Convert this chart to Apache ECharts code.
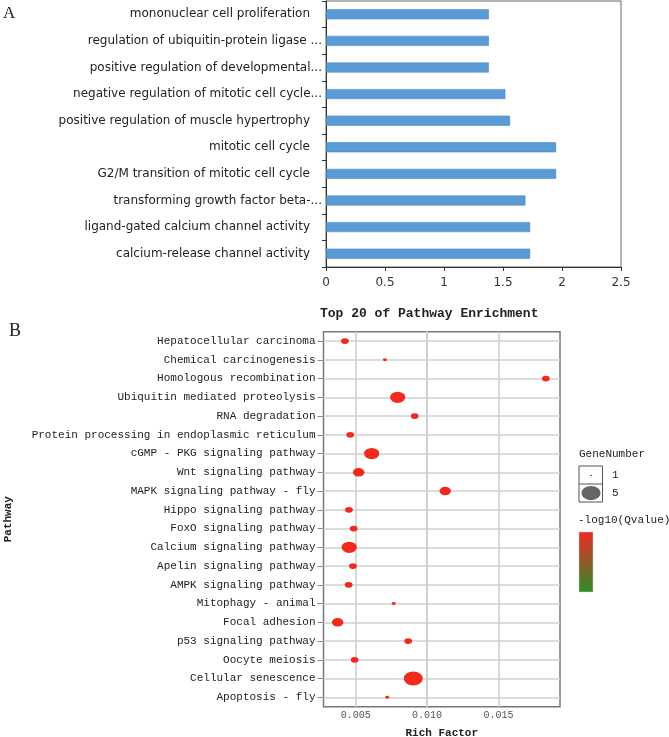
<!DOCTYPE html>
<html><head><meta charset="utf-8">
<script src="https://cdn.jsdelivr.net/npm/echarts@6/dist/echarts.min.js"></script>
<style>html,body{margin:0;padding:0;background:#fff}#c{width:669px;height:737px}</style>
</head><body><div id="c"></div>
<script>
// ---- Panel A data ----
const goTerms = [
  'mononuclear cell proliferation',
  'regulation of ubiquitin-protein ligase ...',
  'positive regulation of developmental...',
  'negative regulation of mitotic cell cycle...',
  'positive regulation of muscle hypertrophy',
  'mitotic cell cycle',
  'G2/M transition of mitotic cell cycle',
  'transforming growth factor beta-...',
  'ligand-gated calcium channel activity',
  'calcium-release channel activity'
];
const goValues = [1.38, 1.38, 1.38, 1.52, 1.56, 1.95, 1.95, 1.69, 1.73, 1.73];
const goTicks = [0, 0.5, 1, 1.5, 2, 2.5];

// ---- Panel B data ----
const pathways = [
  'Hepatocellular carcinoma',
  'Chemical carcinogenesis',
  'Homologous recombination',
  'Ubiquitin mediated proteolysis',
  'RNA degradation',
  'Protein processing in endoplasmic reticulum',
  'cGMP - PKG signaling pathway',
  'Wnt signaling pathway',
  'MAPK signaling pathway - fly',
  'Hippo signaling pathway',
  'FoxO signaling pathway',
  'Calcium signaling pathway',
  'Apelin signaling pathway',
  'AMPK signaling pathway',
  'Mitophagy - animal',
  'Focal adhesion',
  'p53 signaling pathway',
  'Oocyte meiosis',
  'Cellular senescence',
  'Apoptosis - fly'
];
const richFactor = [0.00425, 0.00705, 0.01831, 0.00794, 0.00913, 0.00462, 0.00612, 0.00521, 0.01127, 0.00453,
                    0.00486, 0.00455, 0.00481, 0.00451, 0.00766, 0.00374, 0.00868, 0.00493, 0.00903, 0.00721];
const geneNumber = [2, 1, 2, 4, 2, 2, 4, 3, 3, 2, 2, 4, 2, 2, 1, 3, 2, 2, 5, 1];
const richTicks = [0.005, 0.010, 0.015];
const geneLegend = [1, 5];

const chart = echarts.init(document.getElementById('c'), null, {renderer: 'canvas'});
const mono = 'Liberation Mono';
const sans = 'DejaVu Sans';

function bubbleSize(n) {
  const w = 4 + 3.75 * (n - 1);
  return [w, w * 0.74];
}

const bubbleData = pathways.map((p, i) => [richFactor[i], p, geneNumber[i]]);
const gridLines = pathways.map(p => ({yAxis: p})).concat(richTicks.map(t => ({xAxis: t})));

const option = {
  backgroundColor: '#fff',
  animation: false,
  grid: [
    {left: 326, top: 1, width: 295, height: 266, show: true, borderColor: '#666', borderWidth: 1,
     containLabel: false, outerBoundsMode: 'none'},
    {left: 323.5, top: 331.7, width: 236.5, height: 375, show: true, borderColor: '#777', borderWidth: 1.5,
     containLabel: false, outerBoundsMode: 'none'}
  ],
  xAxis: [
    {
      gridIndex: 0, type: 'value', min: 0, max: 2.5, interval: 0.5,
      axisLine: {show: true, lineStyle: {color: '#333', width: 1}},
      axisTick: {show: true, length: 4, lineStyle: {color: '#333'}},
      splitLine: {show: false},
      axisLabel: {color: '#333', fontFamily: sans, fontSize: 12, margin: 10,
                  formatter: v => String(v)}
    },
    {
      gridIndex: 1, type: 'value', min: 0.00275, max: 0.0193,
      axisLine: {show: false},
      axisTick: {show: false, customValues: richTicks},
      splitLine: {show: true, lineStyle: {color: '#d0d0d0', width: 1.6}},
      axisLabel: {color: '#555', fontFamily: mono, fontSize: 10, margin: 4, customValues: richTicks,
                  formatter: v => v.toFixed(3)},
      name: 'Rich Factor', nameLocation: 'middle', nameGap: 21,
      nameTextStyle: {fontFamily: mono, fontSize: 11, fontWeight: 'bold', color: '#222'}
    }
  ],
  yAxis: [
    {
      gridIndex: 0, type: 'category', data: goTerms, inverse: true,
      axisLine: {show: true, lineStyle: {color: '#333'}},
      axisTick: {show: true, length: 4, lineStyle: {color: '#333'}},
      axisLabel: {color: '#222', fontFamily: sans, fontSize: 12, margin: 4,
                  formatter: v => v.endsWith('...') ? v : v + '{p|}',
                  rich: {p: {width: 12}}}
    },
    {
      gridIndex: 1, type: 'category', data: pathways, inverse: true,
      axisLine: {show: false},
      axisTick: {show: true, alignWithLabel: true, length: 6, lineStyle: {color: '#888'}},
      axisLabel: {color: '#222', fontFamily: mono, fontSize: 11, margin: 8},
      name: 'Pathway', nameLocation: 'middle', nameGap: 310, nameRotate: 90,
      nameTextStyle: {fontFamily: mono, fontSize: 11, fontWeight: 'bold', color: '#222'}
    }
  ],
  series: [
    {
      type: 'bar', xAxisIndex: 0, yAxisIndex: 0, data: goValues, barWidth: 10,
      itemStyle: {color: '#5b9bd5', borderColor: '#4a88c4', borderWidth: 0.6}
    },
    {
      type: 'scatter', xAxisIndex: 1, yAxisIndex: 1, data: [], z: 1, silent: true,
      markLine: {silent: true, symbol: 'none', z: 1, label: {show: false}, animation: false,
                 lineStyle: {color: '#d0d0d0', width: 1.6, type: 'solid'},
                 data: gridLines}
    },
    {
      type: 'scatter', xAxisIndex: 1, yAxisIndex: 1, z: 6, data: bubbleData,
      symbol: 'circle', symbolSize: v => bubbleSize(v[2]),
      itemStyle: {color: '#f02a1c', opacity: 1}
    }
  ],
  graphic: [
    {type: 'text', left: 3, top: 5, style: {text: 'A', font: '17px "Liberation Serif"', fill: '#222'}},
    {type: 'text', left: 9, top: 322, style: {text: 'B', font: '18px "Liberation Serif"', fill: '#222'}},
    {type: 'text', left: 320, top: 307, style: {text: 'Top 20 of Pathway Enrichment', font: 'bold 13px "Liberation Mono"', fill: '#222'}},
    {type: 'text', left: 579, top: 449, style: {text: 'GeneNumber', font: '11px "Liberation Mono"', fill: '#222'}},
    {type: 'rect', shape: {x: 579, y: 466, width: 23.5, height: 36}, style: {fill: '#fff', stroke: '#555', lineWidth: 1}},
    {type: 'line', shape: {x1: 579, y1: 484, x2: 602.5, y2: 484}, style: {stroke: '#555', lineWidth: 1}},
    {type: 'ellipse', shape: {cx: 591, cy: 475.5, rx: bubbleSize(geneLegend[0])[0] / 4, ry: bubbleSize(geneLegend[0])[1] / 4}, style: {fill: '#555'}},
    {type: 'ellipse', shape: {cx: 591, cy: 493, rx: bubbleSize(geneLegend[1])[0] / 2, ry: bubbleSize(geneLegend[1])[1] / 2}, style: {fill: '#666'}},
    {type: 'text', left: 612, top: 470, style: {text: String(geneLegend[0]), font: '11px "Liberation Mono"', fill: '#222'}},
    {type: 'text', left: 612, top: 488, style: {text: String(geneLegend[1]), font: '11px "Liberation Mono"', fill: '#222'}},
    {type: 'text', left: 578, top: 515, style: {text: '-log10(Qvalue)', font: '11px "Liberation Mono"', fill: '#222'}},
    {type: 'rect', shape: {x: 579, y: 532, width: 14, height: 60},
     style: {fill: new echarts.graphic.LinearGradient(0, 0, 0, 1, [
       {offset: 0, color: '#ee2a1e'}, {offset: 0.5, color: '#8c5a28'}, {offset: 1, color: '#2f8f24'}]),
       stroke: '#ccc', lineWidth: 0.5}}
  ]
};
chart.setOption(option);
</script></body></html>
